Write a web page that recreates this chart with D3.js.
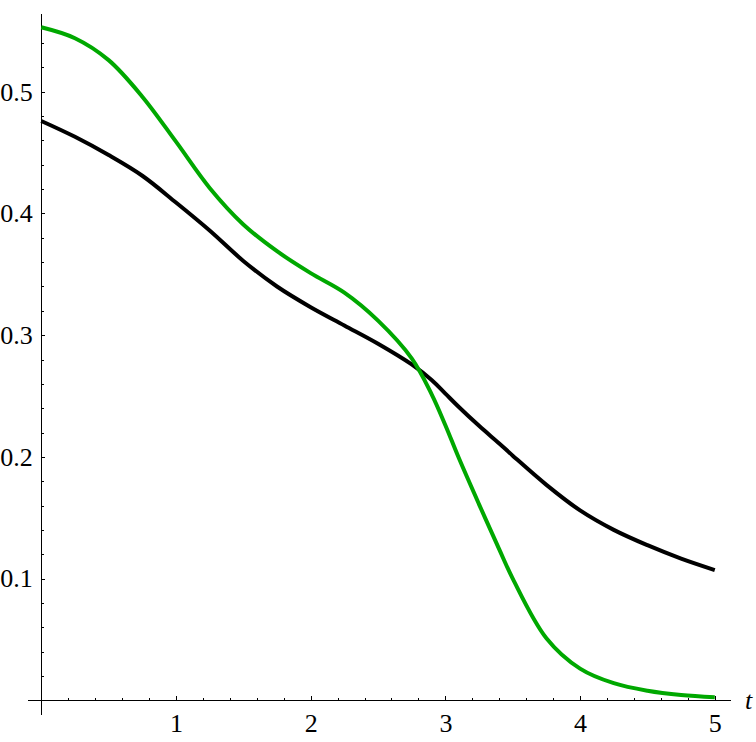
<!DOCTYPE html>
<html>
<head>
<meta charset="utf-8">
<script src="https://cdn.jsdelivr.net/npm/d3@7"></script>
<style>
  body { margin: 0; background: #fff; }
  .axis text { font-family: "Liberation Serif", "Times New Roman", serif; font-size: 26px; fill: #000; }
  .axis path, .axis line { stroke: #000; stroke-width: 1; shape-rendering: crispEdges; }
</style>
</head>
<body>
<div id="chart"></div>
<script>
// data --------------------------------------------------------------------
const tValues = [0, 0.25, 0.5, 0.75, 1, 1.25, 1.5, 1.75, 2, 2.25, 2.5, 2.75, 2.9, 3, 3.1, 3.25, 3.4, 3.5, 3.75, 4, 4.25, 4.5, 4.75, 5];
const greenValues = [0.553, 0.544, 0.526, 0.496, 0.459, 0.421, 0.391, 0.369, 0.351, 0.335, 0.312, 0.281, 0.251, 0.226, 0.199, 0.161, 0.124, 0.100, 0.051, 0.026, 0.014, 0.0078, 0.0043, 0.0025];
const blackValues = [0.476, 0.463, 0.448, 0.431, 0.409, 0.386, 0.361, 0.340, 0.323, 0.308, 0.293, 0.276, 0.263, 0.252, 0.241, 0.2255, 0.211, 0.201, 0.177, 0.156, 0.140, 0.1274, 0.1164, 0.107];
const xTicks = [1, 2, 3, 4, 5];
const yTicks = [0.1, 0.2, 0.3, 0.4, 0.5];
const xMinorTicks = d3.range(1, 26).map(i => i * 0.2).filter(v => Math.abs(v - Math.round(v)) > 1e-6);
const yMinorTicks = d3.range(1, 28).map(i => i * 0.02).filter(v => Math.abs(v * 10 - Math.round(v * 10)) > 1e-6);
const axisLabel = 't';

// chart init -------------------------------------------------------------
const width = 756;
const height = 742;

const svg = d3.select('#chart')
  .append('svg')
  .attr('width', width)
  .attr('height', height);

// plot range includes a little padding around the origin like Mathematica
const xScale = d3.scaleLinear()
  .domain([-0.1, 5.113])
  .range([27.8, 730]);

const yScale = d3.scaleLinear()
  .domain([-0.0113, 0.5645])
  .range([714, 13.3]);

// minor ticks first, then the major axes on top
svg.append('g')
  .attr('class', 'axis x-minor')
  .attr('transform', 'translate(0,' + yScale(0) + ')')
  .call(d3.axisBottom(xScale).tickValues(xMinorTicks).tickSize(-2.5).tickFormat(''))
  .call(g => g.select('.domain').remove());

svg.append('g')
  .attr('class', 'axis y-minor')
  .attr('transform', 'translate(' + xScale(0) + ',0)')
  .call(d3.axisLeft(yScale).tickValues(yMinorTicks).tickSize(-2.5).tickFormat(''))
  .call(g => g.select('.domain').remove());

svg.append('g')
  .attr('class', 'axis x-axis')
  .attr('transform', 'translate(0,' + yScale(0) + ')')
  .call(d3.axisBottom(xScale).tickValues(xTicks).tickSize(-4).tickSizeOuter(0).tickPadding(13.5).tickFormat(d3.format('d')));

svg.append('g')
  .attr('class', 'axis y-axis')
  .attr('transform', 'translate(' + xScale(0) + ',0)')
  .call(d3.axisLeft(yScale).tickValues(yTicks).tickSize(-4).tickSizeOuter(0).tickPadding(8.5).tickFormat(d3.format('.1f')));

// axis label t
svg.append('text')
  .attr('x', xScale.range()[1] + 15)
  .attr('y', yScale(0) + 8.5)
  .style('font-family', '"Liberation Serif", "Times New Roman", serif')
  .style('font-style', 'italic')
  .style('font-size', '26px')
  .text(axisLabel);

// curves
const line = d3.line()
  .x(d => xScale(d[0]))
  .y(d => yScale(d[1]))
  .curve(d3.curveCatmullRom.alpha(0.5));

svg.append('path')
  .datum(tValues.map((t, i) => [t, blackValues[i]]))
  .attr('fill', 'none')
  .attr('stroke', '#000')
  .attr('stroke-width', 4)
  .attr('d', line);

svg.append('path')
  .datum(tValues.map((t, i) => [t, greenValues[i]]))
  .attr('fill', 'none')
  .attr('stroke', '#00a800')
  .attr('stroke-width', 4)
  .attr('d', line);
</script>
</body>
</html>
